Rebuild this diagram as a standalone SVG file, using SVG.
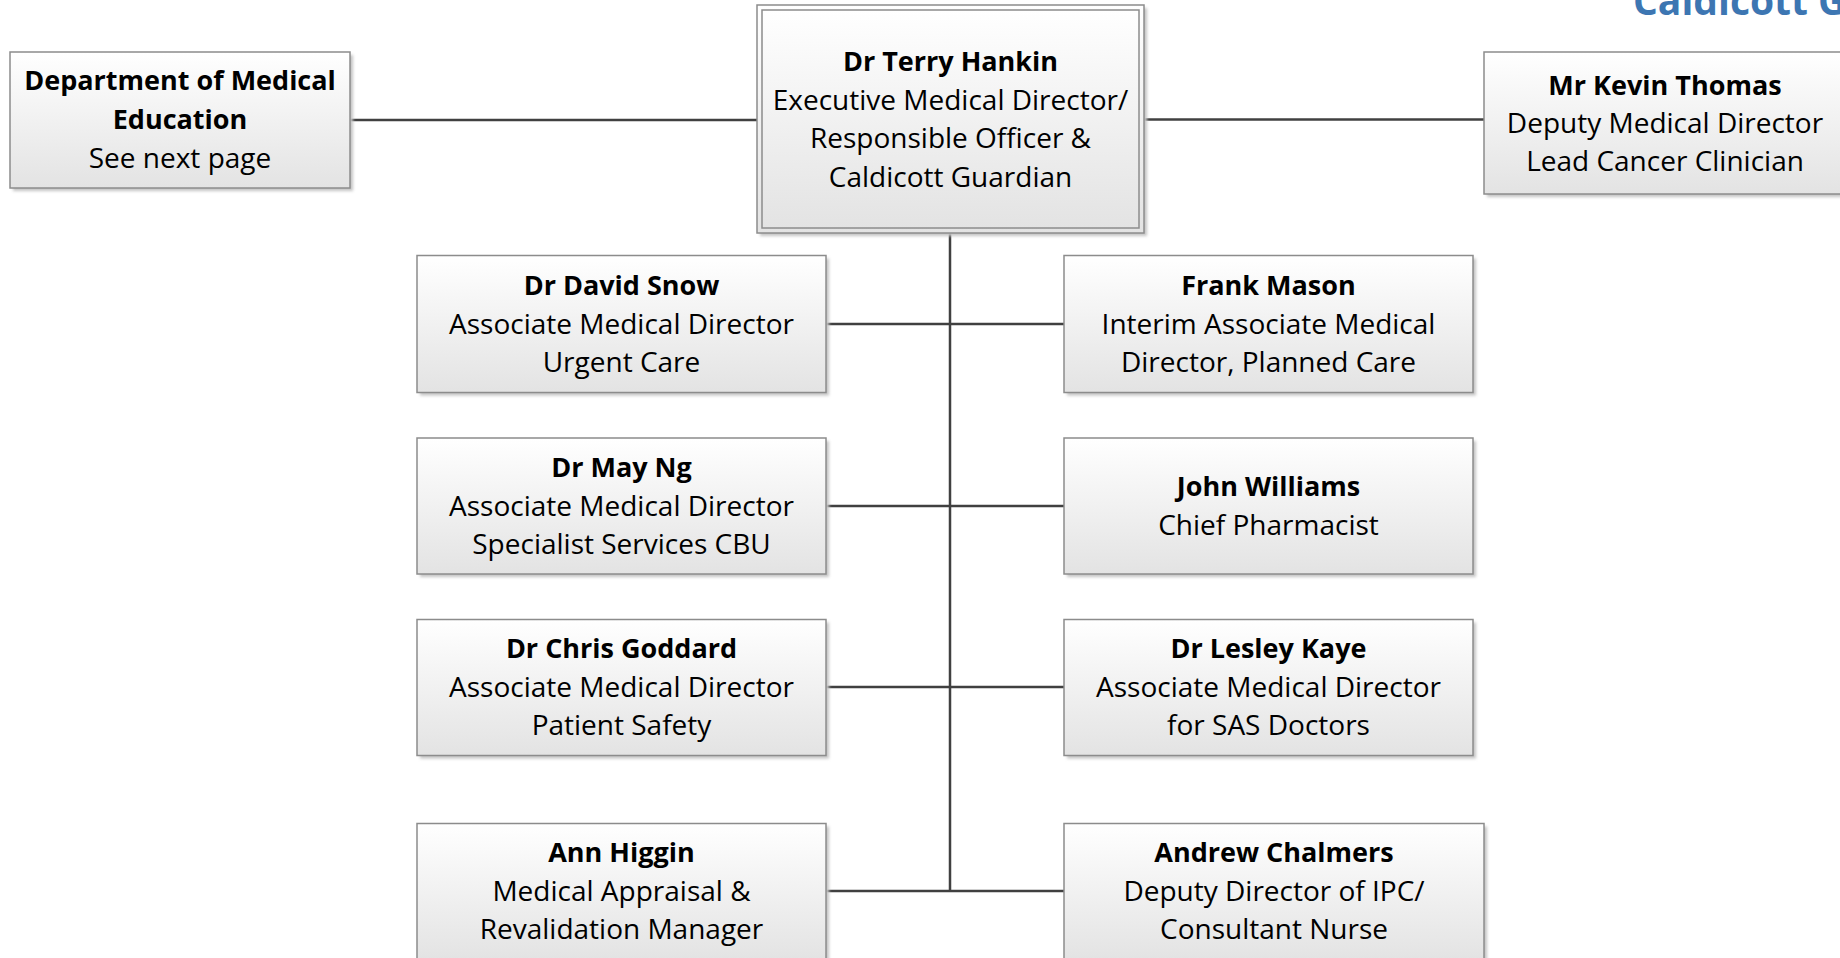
<svg xmlns="http://www.w3.org/2000/svg" width="1840" height="958" viewBox="0 0 1840 958">
<defs>
<linearGradient id="g" x1="0" y1="0" x2="0" y2="1">
<stop offset="0" stop-color="#ffffff"/>
<stop offset="1" stop-color="#e3e3e3"/>
</linearGradient>
<filter id="blur" x="-5%" y="-5%" width="110%" height="110%">
<feGaussianBlur stdDeviation="1.5"/>
</filter>
</defs>
<style>
.box{fill:url(#g);stroke:#8c8c8c;stroke-width:1.5}
.sh{fill:#c4c4c4;filter:url(#blur)}
.t{font-family:"Open Sans","Liberation Sans",sans-serif;font-size:28px;fill:#000;text-anchor:middle}
.b{font-weight:bold;font-size:27px}
.c{stroke:#404040;stroke-width:2.5;fill:none}
.title{font-family:"Open Sans","Liberation Sans",sans-serif;font-size:39px;font-weight:bold;fill:#3d76b2}
</style>
<rect width="1840" height="958" fill="#ffffff"/>
<text class="title" x="1633" y="15">Caldicott G</text>
<g id="connectors">
<line class="c" x1="350" y1="120" x2="757" y2="120"/>
<line class="c" x1="1144" y1="119.5" x2="1484" y2="119.5"/>
<line class="c" x1="950" y1="233" x2="950" y2="891"/>
<line class="c" x1="826" y1="324" x2="1064" y2="324"/>
<line class="c" x1="826" y1="506" x2="1064" y2="506"/>
<line class="c" x1="826" y1="687" x2="1064" y2="687"/>
<line class="c" x1="826" y1="891" x2="1064" y2="891"/>
</g>
<g id="dept">
<rect class="sh" x="13" y="55" width="340" height="136"/>
<rect class="box" x="10" y="52" width="340" height="136"/>
<text class="t b" x="180" y="90">Department of Medical</text>
<text class="t b" x="180" y="129">Education</text>
<text class="t" x="180" y="168">See next page</text>
</g>
<g id="hankin">
<rect class="sh" x="760" y="8" width="387" height="228"/>
<rect class="box" x="757" y="5" width="387" height="228"/>
<rect class="box" x="762" y="10" width="377" height="218"/>
<text class="t b" x="950.5" y="71">Dr Terry Hankin</text>
<text class="t" x="950.5" y="110">Executive Medical Director/</text>
<text class="t" x="950.5" y="148">Responsible Officer &amp;</text>
<text class="t" x="950.5" y="186.5">Caldicott Guardian</text>
</g>
<g id="thomas">
<rect class="sh" x="1487" y="55" width="362" height="142"/>
<rect class="box" x="1484" y="52" width="362" height="142"/>
<text class="t b" x="1665" y="94.5">Mr Kevin Thomas</text>
<text class="t" x="1665" y="133">Deputy Medical Director</text>
<text class="t" x="1665" y="171">Lead Cancer Clinician</text>
</g>
<g id="snow">
<rect class="sh" x="420" y="258.5" width="409" height="137"/>
<rect class="box" x="417" y="255.5" width="409" height="137"/>
<text class="t b" x="621.5" y="295">Dr David Snow</text>
<text class="t" x="621.5" y="333.5">Associate Medical Director</text>
<text class="t" x="621.5" y="372">Urgent Care</text>
</g>
<g id="mason">
<rect class="sh" x="1067" y="258.5" width="409" height="137"/>
<rect class="box" x="1064" y="255.5" width="409" height="137"/>
<text class="t b" x="1268.5" y="295">Frank Mason</text>
<text class="t" x="1268.5" y="333.5">Interim Associate Medical</text>
<text class="t" x="1268.5" y="372">Director, Planned Care</text>
</g>
<g id="ng">
<rect class="sh" x="420" y="441" width="409" height="136"/>
<rect class="box" x="417" y="438" width="409" height="136"/>
<text class="t b" x="621.5" y="477">Dr May Ng</text>
<text class="t" x="621.5" y="515.5">Associate Medical Director</text>
<text class="t" x="621.5" y="554">Specialist Services CBU</text>
</g>
<g id="williams">
<rect class="sh" x="1067" y="441" width="409" height="136"/>
<rect class="box" x="1064" y="438" width="409" height="136"/>
<text class="t b" x="1268.5" y="496">John Williams</text>
<text class="t" x="1268.5" y="534.5">Chief Pharmacist</text>
</g>
<g id="goddard">
<rect class="sh" x="420" y="622.5" width="409" height="136"/>
<rect class="box" x="417" y="619.5" width="409" height="136"/>
<text class="t b" x="621.5" y="658">Dr Chris Goddard</text>
<text class="t" x="621.5" y="696.5">Associate Medical Director</text>
<text class="t" x="621.5" y="735">Patient Safety</text>
</g>
<g id="kaye">
<rect class="sh" x="1067" y="622.5" width="409" height="136"/>
<rect class="box" x="1064" y="619.5" width="409" height="136"/>
<text class="t b" x="1268.5" y="658">Dr Lesley Kaye</text>
<text class="t" x="1268.5" y="696.5">Associate Medical Director</text>
<text class="t" x="1268.5" y="735">for SAS Doctors</text>
</g>
<g id="higgin">
<rect class="sh" x="420" y="826.5" width="409" height="137"/>
<rect class="box" x="417" y="823.5" width="409" height="137"/>
<text class="t b" x="621.5" y="862">Ann Higgin</text>
<text class="t" x="621.5" y="900.5">Medical Appraisal &amp;</text>
<text class="t" x="621.5" y="939">Revalidation Manager</text>
</g>
<g id="chalmers">
<rect class="sh" x="1067" y="826.5" width="420" height="137"/>
<rect class="box" x="1064" y="823.5" width="420" height="137"/>
<text class="t b" x="1274" y="862">Andrew Chalmers</text>
<text class="t" x="1274" y="900.5">Deputy Director of IPC/</text>
<text class="t" x="1274" y="939">Consultant Nurse</text>
</g>
</svg>
